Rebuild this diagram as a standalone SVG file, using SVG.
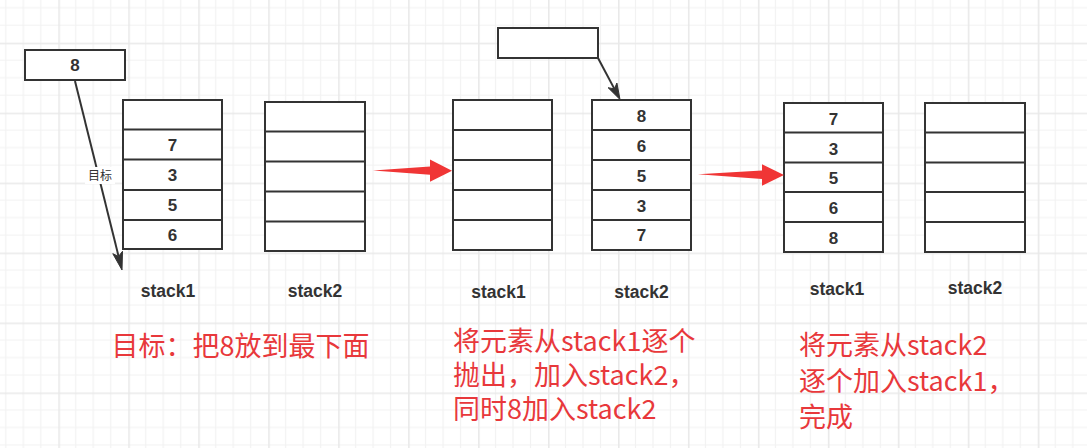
<svg xmlns="http://www.w3.org/2000/svg" width="1087" height="448" viewBox="0 0 1087 448">
<style>
.cell{fill:#fff;stroke:#333;stroke-width:2}
.div{stroke:#333;stroke-width:2}
.num{font-family:"Liberation Sans","Noto Sans",sans-serif;font-size:17px;font-weight:bold;fill:#333;text-anchor:middle}
.lbl{font-family:"Liberation Sans","Noto Sans",sans-serif;font-size:17.5px;font-weight:bold;fill:#333;text-anchor:middle}
.red{font-family:"Noto Sans CJK SC",sans-serif;font-size:27px;fill:#e8383b}
.edge{stroke:#333;stroke-width:2;fill:none}
.head{fill:#333;stroke:#333;stroke-width:1}
.rarrow{fill:#f03535}
</style>
<defs>
<pattern id="grid" patternUnits="userSpaceOnUse" x="58.3" y="42.7" width="69.96" height="69.96">
<path d="M17.49 0V69.96M34.98 0V69.96M52.47 0V69.96M0 17.49H69.96M0 34.98H69.96M0 52.47H69.96" stroke="#f2f2f2" stroke-width="1.2" fill="none"/>
<path d="M0.8 0V69.96M0 0.8H69.96" stroke="#e9e9e9" stroke-width="1.6" fill="none"/>
</pattern>
</defs>
<rect width="1087" height="448" fill="#fff"/>
<rect width="1087" height="448" fill="url(#grid)"/>

<g id="box8">
<rect class="cell" x="25" y="50" width="100" height="30"/>
<text class="num" x="75" y="71">8</text>
</g>
<g id="boxEmpty">
<rect class="cell" x="498" y="28" width="100" height="30"/>
</g>

<g id="s1a">
<rect class="cell" x="123" y="100" width="99" height="149"/>
<path class="div" d="M123 129.5H222M123 159.5H222M123 190H222M123 220H222"/>
<text class="num" x="172.5" y="151">7</text>
<text class="num" x="172.5" y="181">3</text>
<text class="num" x="172.5" y="211">5</text>
<text class="num" x="172.5" y="241">6</text>
<text class="lbl" x="168" y="297">stack1</text>
</g>
<g id="s2a">
<rect class="cell" x="265" y="102" width="100" height="149"/>
<path class="div" d="M265 131.5H365M265 161.5H365M265 191.5H365M265 221.5H365"/>
<text class="lbl" x="315" y="297">stack2</text>
</g>

<g id="s1b">
<rect class="cell" x="453" y="100" width="99" height="150"/>
<path class="div" d="M453 130H552M453 160H552M453 190H552M453 220H552"/>
<text class="lbl" x="498.5" y="298">stack1</text>
</g>
<g id="s2b">
<rect class="cell" x="592" y="100" width="99" height="150"/>
<path class="div" d="M592 130H691M592 160H691M592 190H691M592 220H691"/>
<text class="num" x="641.5" y="122">8</text>
<text class="num" x="641.5" y="152">6</text>
<text class="num" x="641.5" y="182">5</text>
<text class="num" x="641.5" y="212">3</text>
<text class="num" x="641.5" y="241">7</text>
<text class="lbl" x="641.5" y="298">stack2</text>
</g>

<g id="s1c">
<rect class="cell" x="784" y="103" width="99" height="149"/>
<path class="div" d="M784 132.5H883M784 162.5H883M784 192H883M784 222H883"/>
<text class="num" x="833.5" y="125">7</text>
<text class="num" x="833.5" y="155">3</text>
<text class="num" x="833.5" y="184">5</text>
<text class="num" x="833.5" y="214">6</text>
<text class="num" x="833.5" y="244">8</text>
<text class="lbl" x="837" y="295">stack1</text>
</g>
<g id="s2c">
<rect class="cell" x="925" y="103" width="100" height="149"/>
<path class="div" d="M925 132.5H1025M925 162.5H1025M925 192H1025M925 222H1025"/>
<text class="lbl" x="975" y="294">stack2</text>
</g>

<g id="connectors">
<line class="edge" x1="75" y1="81" x2="118.6" y2="256.4"/>
<polygon class="head" points="122,270 122.5,251.3 118.6,256.4 112.8,253.7"/>
<rect x="85" y="167" width="30" height="17" fill="#fff"/>
<text x="100" y="180" font-family="'Noto Sans CJK SC',sans-serif" font-size="12" fill="#333" text-anchor="middle">目标</text>

<line class="edge" x1="598" y1="58" x2="614.4" y2="88.9"/>
<polygon class="head" points="620,99.5 616.9,83 614.4,88.9 608.1,87.7"/>

<polygon class="rarrow" points="373,170.5 430,166.5 430,159.5 452,170.8 430,181.8 430,174.8"/>
<polygon class="rarrow" points="698,174.3 762,170.5 762,164.3 784,175 762,185.7 762,179"/>
</g>

<g id="notes">
<text class="red" x="111.5" y="356">目标：把8放到最下面</text>
<text class="red" x="453" y="351">将元素从stack1逐个</text>
<text class="red" x="453" y="385">抛出，加入stack2，</text>
<text class="red" x="453" y="419">同时8加入stack2</text>
<text class="red" x="799" y="355">将元素从stack2</text>
<text class="red" x="799" y="391">逐个加入stack1，</text>
<text class="red" x="799" y="427">完成</text>
</g>
</svg>
